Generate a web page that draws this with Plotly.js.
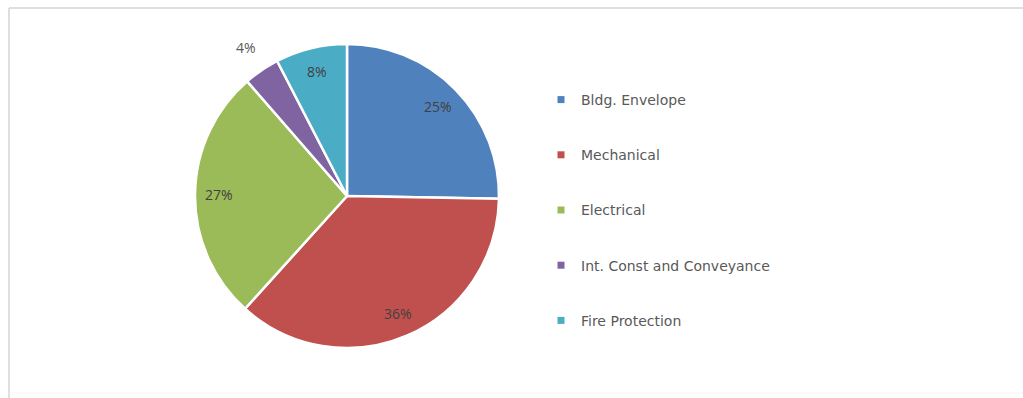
<!DOCTYPE html>
<html>
<head>
<meta charset="utf-8">
<script src="https://cdn.plot.ly/plotly-3.0.1.min.js"></script>
<style>html,body{margin:0;padding:0;background:#fff;}#chart{width:1023px;height:398px;}</style>
</head>
<body>
<div id="chart"></div>
<script>
const categories = ["Bldg. Envelope", "Mechanical", "Electrical", "Int. Const and Conveyance", "Fire Protection"];
const values = [25.3, 36.4, 26.9, 3.8, 7.6];
const colors = ["#4F81BD", "#C0504D", "#9BBB59", "#8064A2", "#4BACC6"];

const W = 1023, H = 398;
// pie placement (pixels)
const cx = 347, cy = 196, R = 152;

const pie = {
  type: "pie",
  labels: categories,
  values: values,
  sort: false,
  direction: "clockwise",
  rotation: 0,
  marker: {colors: colors, line: {color: "#ffffff", width: 2.5}},
  textinfo: "none",
  showlegend: false,
  hoverinfo: "label+percent",
  domain: {x: [(cx - R) / W, (cx + R) / W], y: [1 - (cy + R) / H, 1 - (cy - R) / H]}
};

// Data labels placed Excel-style along each slice's mid-angle
const total = values.reduce((a, b) => a + b, 0);
let cum = 0;
const labelAnns = values.map((v, i) => {
  const frac = v / total;
  const mid = (cum + frac / 2) * 2 * Math.PI;
  cum += frac;
  const outside = frac < 0.05;
  const r = outside ? 1.18 * R : 0.84 * R;
  const px = cx + r * Math.sin(mid);
  const py = cy - r * Math.cos(mid);
  return {
    xref: "paper", yref: "paper",
    x: px / W, y: 1 - py / H,
    xanchor: "center", yanchor: "middle",
    showarrow: false,
    text: Math.round(frac * 100) + "%",
    font: {family: "Open Sans, sans-serif", size: 14, color: outside ? "#595959" : "#404040"}
  };
});

const legendTraces = categories.map((c, i) => ({
  type: "scatter",
  x: [null], y: [null],
  mode: "markers",
  name: c,
  legendgroup: "g" + i,
  marker: {symbol: "square", size: 7, color: colors[i]},
  showlegend: true,
  hoverinfo: "skip"
}));

const layout = {
  width: W, height: H,
  margin: {l: 0, r: 0, t: 0, b: 0},
  paper_bgcolor: "#ffffff",
  plot_bgcolor: "rgba(0,0,0,0)",
  xaxis: {visible: false, domain: [0.99, 1]},
  yaxis: {visible: false, domain: [0.99, 1]},
  showlegend: true,
  legend: {
    x: 541 / W, y: 1 - 84 / H, xanchor: "left", yanchor: "top",
    font: {family: "DejaVu Sans, sans-serif", size: 14, color: "#595959"},
    tracegroupgap: 34,
    traceorder: "grouped",
    itemwidth: 30,
    bgcolor: "rgba(0,0,0,0)"
  },
  annotations: labelAnns,
  shapes: [
    {type: "line", xref: "paper", yref: "paper", x0: 9 / W, x1: 1, y0: 1 - 8 / H, y1: 1 - 8 / H, line: {color: "#d4d4d4", width: 1.5}},
    {type: "line", xref: "paper", yref: "paper", x0: 9 / W, x1: 9 / W, y0: 1 - 8 / H, y1: 0, line: {color: "#d4d4d4", width: 1.5}},
    {type: "line", xref: "paper", yref: "paper", x0: 9 / W, x1: 1, y0: 1 - 393 / H, y1: 1 - 393 / H, line: {color: "#f4f4f4", width: 1}}
  ]
};

Plotly.newPlot("chart", [pie].concat(legendTraces), layout, {displayModeBar: false, staticPlot: true});
</script>
</body>
</html>
